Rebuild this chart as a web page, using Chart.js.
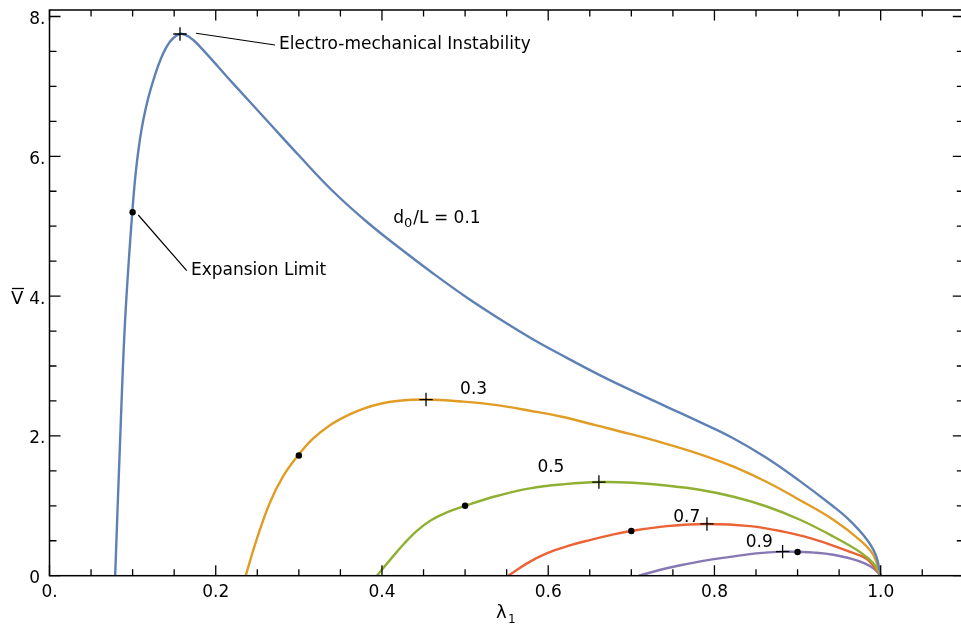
<!DOCTYPE html>
<html>
<head>
<meta charset="utf-8">
<script src="https://cdn.jsdelivr.net/npm/chart.js@4"></script>
<style>
  html, body { margin: 0; padding: 0; background: #fff; overflow: hidden; }
  #wrap { width: 965px; height: 628px; }
</style>
</head>
<body>
<div id="wrap"><canvas id="myChart" width="965" height="628"></canvas></div>
<script>
// curves, lambda_1 vs V-bar, one per d0/L
const blueX = [0.079, 0.085, 0.091, 0.0996, 0.105, 0.113, 0.125, 0.141, 0.157, 0.169, 0.181, 0.221, 0.261, 0.301, 0.341, 0.382, 0.422, 0.462, 0.502, 0.542, 0.582, 0.622, 0.662, 0.702, 0.742, 0.782, 0.822, 0.862, 0.902, 0.942, 0.962, 0.982, 0.994, 1.0];
const blueY = [0, 1.95, 3.66, 5.2, 5.9, 6.53, 7.09, 7.57, 7.75, 7.70, 7.57, 7.04, 6.52, 6.0, 5.50, 5.06, 4.68, 4.32, 3.98, 3.67, 3.38, 3.12, 2.87, 2.64, 2.42, 2.20, 1.97, 1.69, 1.36, 1.0, 0.80, 0.54, 0.30, 0];

const orangeX = [0.236, 0.249, 0.265, 0.281, 0.299, 0.317, 0.337, 0.358, 0.378, 0.398, 0.418, 0.453, 0.498, 0.538, 0.578, 0.618, 0.658, 0.698, 0.738, 0.782, 0.823, 0.863, 0.903, 0.943, 0.975, 0.991, 1.0];
const orangeY = [0, 0.51, 1.04, 1.42, 1.72, 1.96, 2.15, 2.29, 2.39, 2.46, 2.50, 2.52, 2.49, 2.44, 2.36, 2.27, 2.15, 2.03, 1.90, 1.74, 1.56, 1.34, 1.08, 0.80, 0.51, 0.30, 0];

const greenX = [0.394, 0.41, 0.426, 0.442, 0.458, 0.478, 0.5, 0.538, 0.578, 0.62, 0.661, 0.702, 0.742, 0.782, 0.823, 0.863, 0.903, 0.943, 0.975, 0.991, 1.0];
const greenY = [0, 0.23, 0.45, 0.64, 0.785, 0.905, 1.00, 1.14, 1.25, 1.31, 1.34, 1.33, 1.29, 1.23, 1.13, 0.99, 0.80, 0.56, 0.34, 0.18, 0];

const redX = [0.552, 0.575, 0.598, 0.625, 0.65, 0.675, 0.7, 0.743, 0.791, 0.843, 0.883, 0.923, 0.963, 0.983, 1.0];
const redY = [0, 0.18, 0.32, 0.43, 0.51, 0.58, 0.64, 0.71, 0.74, 0.71, 0.63, 0.51, 0.34, 0.24, 0];

const purpleX = [0.709, 0.735, 0.759, 0.79, 0.819, 0.85, 0.882, 0.9, 0.92, 0.943, 0.965, 0.98, 0.992, 1.0];
const purpleY = [0, 0.085, 0.15, 0.22, 0.27, 0.32, 0.345, 0.34, 0.33, 0.30, 0.24, 0.18, 0.10, 0];

// "+" electro-mechanical instability, dots expansion limit
const emiX = [0.157, 0.453, 0.661, 0.791, 0.882];
const emiY = [7.75, 2.52, 1.34, 0.74, 0.345];
const expX = [0.1, 0.3, 0.5, 0.7, 0.9];
const expY = [5.2, 1.72, 1.0, 0.64, 0.34];

const xTickValues = [0, 0.2, 0.4, 0.6, 0.8, 1.0];
const xTickLabels = ["0.", "0.2", "0.4", "0.6", "0.8", "1.0"];
const yTickValues = [0, 2, 4, 6, 8];
const yTickLabels = ["0", "2.", "4.", "6.", "8."];

const colors = ['#5E81B5', '#E19C24', '#8FB032', '#EB6235', '#8778B3'];

function pts(xs, ys) {
    return xs.map((x, i) => ({x: x, y: ys[i]}));
}

// text labels, in data units (x, y of baseline start)
const curveLabels = [
    {text: '0.3', x: 0.494, y: 2.60},
    {text: '0.5', x: 0.587, y: 1.49},
    {text: '0.7', x: 0.7505, y: 0.764},
    {text: '0.9', x: 0.8376, y: 0.406}
];
const callouts = [
    {text: 'Electro-mechanical Instability', x: 0.2761, y: 7.53, from: [0.1763, 7.76], to: [0.2713, 7.592]},
    {text: 'Expansion Limit', x: 0.1702, y: 4.30, from: [0.1068, 5.16], to: [0.1651, 4.363]}
];

const FONT = '17px "DejaVu Sans", Verdana, sans-serif';

const framePlugin = {
    id: 'frame',
    afterDatasetsDraw(chart) {
        const ctx = chart.ctx;
        const xs = chart.scales.x, ys = chart.scales.y;
        const a = chart.chartArea;
        ctx.save();
        ctx.strokeStyle = '#000';
        ctx.fillStyle = '#000';

        // ticks
        ctx.lineWidth = 1.3;
        ctx.beginPath();
        for (let i = 0; i <= 22; i++) {
            const v = i * 0.05;
            const px = xs.getPixelForValue(v);
            const major = i % 4 === 0 && i <= 20;
            const len = major ? 10.5 : 6.5;
            ctx.moveTo(px, a.bottom); ctx.lineTo(px, a.bottom - len);
            ctx.moveTo(px, a.top); ctx.lineTo(px, a.top + len);
        }
        for (let i = 0; i <= 16; i++) {
            const v = i * 0.5;
            const py = ys.getPixelForValue(v);
            const major = i % 4 === 0;
            const len = major ? 11 : 7;
            ctx.moveTo(a.left, py); ctx.lineTo(a.left + len, py);
            ctx.moveTo(a.right, py); ctx.lineTo(a.right - len, py);
        }
        ctx.stroke();

        // frame
        ctx.lineWidth = 1.5;
        ctx.strokeRect(a.left, a.top, a.right - a.left, a.bottom - a.top);

        // tick labels
        ctx.font = FONT;
        ctx.textBaseline = 'alphabetic';
        ctx.textAlign = 'center';
        xTickValues.forEach((v, i) => {
            ctx.fillText(xTickLabels[i], xs.getPixelForValue(v), a.bottom + 21);
        });
        ctx.textAlign = 'right';
        const dotW = ctx.measureText('.').width;
        yTickValues.forEach((v, i) => {
            const lab = yTickLabels[i];
            const off = lab.indexOf('.') < 0 ? dotW : 0;
            ctx.fillText(lab, a.left - 4 - off, ys.getPixelForValue(v) + 7.5);
        });

        // axis titles
        ctx.textAlign = 'left';
        ctx.font = '18px "DejaVu Sans", Verdana, sans-serif';
        ctx.fillText('\u03bb', 496, 618);
        ctx.font = '12px "DejaVu Sans", Verdana, sans-serif';
        ctx.fillText('1', 508, 623);
        ctx.font = '18px "DejaVu Sans", Verdana, sans-serif';
        ctx.fillText('V', 11, 304);
        ctx.lineWidth = 1.3;
        ctx.beginPath();
        ctx.moveTo(12, 288.5); ctx.lineTo(24, 288.5);
        ctx.stroke();

        // callouts
        ctx.font = FONT;
        ctx.lineWidth = 1.2;
        callouts.forEach(c => {
            ctx.beginPath();
            ctx.moveTo(xs.getPixelForValue(c.from[0]), ys.getPixelForValue(c.from[1]));
            ctx.lineTo(xs.getPixelForValue(c.to[0]), ys.getPixelForValue(c.to[1]));
            ctx.stroke();
            ctx.fillText(c.text, xs.getPixelForValue(c.x), ys.getPixelForValue(c.y));
        });
        curveLabels.forEach(c => {
            ctx.fillText(c.text, xs.getPixelForValue(c.x), ys.getPixelForValue(c.y));
        });

        // d0/L = 0.1
        let px = xs.getPixelForValue(0.4136), py = ys.getPixelForValue(5.05);
        ctx.fillText('d', px, py);
        px += ctx.measureText('d').width;
        ctx.font = '13px "DejaVu Sans", Verdana, sans-serif';
        ctx.fillText('0', px, py + 4);
        px += ctx.measureText('0').width + 1;
        ctx.font = FONT;
        ctx.fillText('/L = 0.1', px, py);

        ctx.restore();
    }
};

const series = [[blueX, blueY], [orangeX, orangeY], [greenX, greenY], [redX, redY], [purpleX, purpleY]];
const datasets = series.map((s, i) => ({
    data: pts(s[0], s[1]),
    borderColor: colors[i],
    borderWidth: 2.4,
    showLine: true,
    pointRadius: 0,
    tension: 0.4,
    fill: false,
    order: 2
}));
datasets.push({
    data: pts(emiX, emiY),
    showLine: false,
    pointStyle: 'cross',
    pointRadius: 6.7,
    borderColor: '#000',
    borderWidth: 1.3,
    order: 0
});
datasets.push({
    data: pts(expX, expY),
    showLine: false,
    pointStyle: 'circle',
    pointRadius: 3.2,
    backgroundColor: '#000',
    borderColor: '#000',
    borderWidth: 0,
    order: 1
});

const ctx = document.getElementById('myChart').getContext('2d');
new Chart(ctx, {
    type: 'scatter',
    data: {datasets: datasets},
    options: {
        responsive: false,
        animation: false,
        devicePixelRatio: 1,
        layout: {autoPadding: false, padding: {left: 49.5, right: 1.2, top: 10, bottom: 52.3}},
        plugins: {legend: {display: false}, tooltip: {enabled: false}},
        scales: {
            x: {type: 'linear', min: 0, max: 1.1, display: false},
            y: {type: 'linear', min: 0, max: 8.093, display: false}
        }
    },
    plugins: [framePlugin]
});
</script>
</body>
</html>
